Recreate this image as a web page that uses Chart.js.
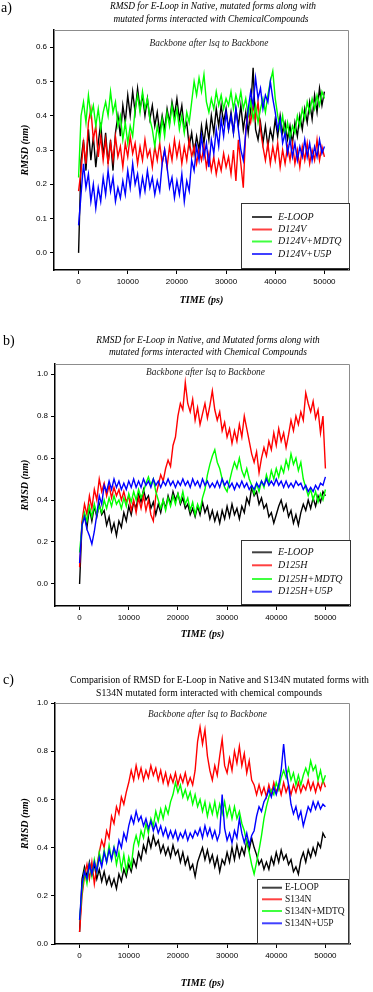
<!DOCTYPE html>
<html>
<head>
<meta charset="utf-8">
<script src="https://cdn.jsdelivr.net/npm/chart.js@4.4.1/dist/chart.umd.min.js"></script>
<style>
  body { margin: 0; background: #fff; width: 373px; height: 992px; position: relative; overflow: hidden; }
  .panel { position: absolute; left: 0; width: 373px; }
</style>
</head>
<body>
<div class="panel" style="top:0;height:315px"><canvas id="chartA"></canvas></div>
<div class="panel" style="top:318px;height:325px"><canvas id="chartB"></canvas></div>
<div class="panel" style="top:645px;height:347px"><canvas id="chartC"></canvas></div>
<script>
// RMSD (nm), one value every 500 ps from 0 to 50000 ps
const eLoopA = [0.00,0.27,0.33,0.24,0.36,0.27,0.34,0.25,0.32,0.38,
  0.28,0.35,0.26,0.33,0.24,0.35,0.40,0.34,0.43,0.38,
  0.46,0.40,0.47,0.41,0.48,0.42,0.46,0.40,0.45,0.39,
  0.43,0.37,0.41,0.35,0.40,0.36,0.42,0.38,0.44,0.40,
  0.45,0.39,0.43,0.36,0.38,0.31,0.35,0.29,0.34,0.30,
  0.37,0.32,0.38,0.33,0.40,0.35,0.42,0.37,0.43,0.38,
  0.42,0.36,0.41,0.35,0.42,0.37,0.43,0.36,0.41,0.35,
  0.42,0.54,0.36,0.33,0.38,0.32,0.37,0.31,0.36,0.33,
  0.39,0.34,0.40,0.35,0.38,0.33,0.37,0.32,0.38,0.34,
  0.40,0.36,0.42,0.38,0.44,0.39,0.46,0.41,0.48,0.43,
  0.47];
const d124vA = [0.18,0.24,0.32,0.26,0.38,0.42,0.33,0.37,0.28,0.34,
  0.27,0.33,0.26,0.32,0.27,0.34,0.28,0.31,0.25,0.32,
  0.28,0.34,0.29,0.32,0.26,0.31,0.27,0.33,0.28,0.30,
  0.25,0.31,0.27,0.32,0.26,0.30,0.25,0.31,0.27,0.33,
  0.28,0.32,0.26,0.31,0.27,0.33,0.28,0.31,0.26,0.30,
  0.27,0.31,0.25,0.29,0.24,0.28,0.23,0.27,0.24,0.29,
  0.25,0.28,0.23,0.30,0.21,0.33,0.26,0.19,0.36,0.41,
  0.38,0.43,0.39,0.44,0.36,0.31,0.27,0.32,0.26,0.31,
  0.27,0.32,0.25,0.30,0.26,0.31,0.27,0.32,0.26,0.30,
  0.25,0.31,0.27,0.32,0.26,0.30,0.27,0.33,0.27,0.31,
  0.28];
const mdtqA = [0.22,0.40,0.44,0.38,0.46,0.40,0.43,0.37,0.42,0.36,
  0.41,0.44,0.40,0.47,0.41,0.44,0.37,0.40,0.33,0.38,
  0.32,0.37,0.34,0.42,0.46,0.41,0.47,0.42,0.45,0.39,
  0.36,0.31,0.37,0.33,0.39,0.34,0.41,0.37,0.43,0.38,
  0.42,0.36,0.40,0.35,0.41,0.38,0.44,0.50,0.46,0.51,
  0.47,0.52,0.44,0.41,0.45,0.42,0.47,0.43,0.46,0.42,
  0.45,0.43,0.47,0.42,0.46,0.43,0.47,0.42,0.45,0.40,
  0.44,0.39,0.43,0.38,0.42,0.45,0.41,0.46,0.50,0.53,
  0.45,0.40,0.36,0.40,0.34,0.38,0.33,0.37,0.35,0.40,
  0.37,0.42,0.39,0.44,0.41,0.45,0.42,0.46,0.43,0.47,
  0.45];
const u5pA = [0.08,0.17,0.26,0.19,0.23,0.15,0.20,0.13,0.19,0.15,
  0.22,0.17,0.24,0.18,0.22,0.15,0.19,0.16,0.21,0.17,
  0.24,0.19,0.26,0.20,0.23,0.17,0.22,0.18,0.24,0.19,
  0.22,0.17,0.21,0.18,0.26,0.30,0.25,0.19,0.22,0.16,
  0.21,0.17,0.23,0.15,0.21,0.18,0.27,0.24,0.31,0.27,
  0.34,0.28,0.32,0.25,0.33,0.29,0.36,0.31,0.39,0.34,
  0.41,0.36,0.40,0.35,0.42,0.36,0.30,0.27,0.35,0.42,
  0.47,0.43,0.51,0.45,0.48,0.42,0.46,0.44,0.50,0.45,
  0.41,0.36,0.39,0.32,0.35,0.29,0.33,0.28,0.32,0.27,
  0.31,0.28,0.33,0.28,0.32,0.27,0.31,0.28,0.33,0.29,
  0.31];

const eLoopB = [0.00,0.29,0.33,0.27,0.36,0.30,0.37,0.32,0.38,0.33,
  0.35,0.28,0.32,0.25,0.29,0.23,0.30,0.27,0.34,0.30,
  0.37,0.33,0.39,0.36,0.43,0.39,0.45,0.40,0.42,0.36,
  0.39,0.33,0.38,0.34,0.40,0.36,0.42,0.38,0.44,0.40,
  0.43,0.38,0.41,0.36,0.38,0.33,0.36,0.32,0.37,0.33,
  0.39,0.34,0.37,0.31,0.35,0.30,0.34,0.29,0.35,0.31,
  0.37,0.32,0.38,0.33,0.36,0.31,0.37,0.34,0.41,0.38,
  0.46,0.42,0.44,0.38,0.41,0.36,0.38,0.32,0.34,0.29,
  0.33,0.37,0.40,0.35,0.38,0.32,0.35,0.29,0.33,0.28,
  0.34,0.38,0.35,0.40,0.36,0.41,0.37,0.42,0.39,0.44,
  0.42];
const d125hB = [0.08,0.30,0.38,0.33,0.42,0.36,0.45,0.40,0.50,0.44,
  0.48,0.42,0.47,0.41,0.46,0.42,0.45,0.40,0.44,0.39,
  0.42,0.35,0.40,0.34,0.41,0.36,0.42,0.35,0.40,0.33,
  0.30,0.42,0.47,0.52,0.49,0.55,0.59,0.56,0.66,0.70,
  0.80,0.86,0.83,0.96,0.86,0.82,0.88,0.78,0.84,0.76,
  0.81,0.86,0.79,0.85,0.92,0.83,0.78,0.82,0.73,0.77,
  0.70,0.74,0.67,0.73,0.68,0.76,0.70,0.80,0.74,0.68,
  0.62,0.58,0.63,0.53,0.60,0.65,0.61,0.68,0.64,0.72,
  0.66,0.74,0.68,0.72,0.65,0.71,0.78,0.73,0.80,0.76,
  0.82,0.78,0.91,0.86,0.82,0.87,0.79,0.83,0.72,0.80,
  0.55];
const mdtqB = [0.15,0.28,0.34,0.30,0.37,0.32,0.38,0.33,0.37,0.34,
  0.40,0.36,0.41,0.37,0.42,0.38,0.40,0.36,0.41,0.37,
  0.43,0.39,0.44,0.40,0.45,0.41,0.44,0.48,0.51,0.47,
  0.50,0.44,0.40,0.36,0.40,0.35,0.41,0.37,0.42,0.38,
  0.43,0.39,0.44,0.38,0.41,0.35,0.39,0.33,0.38,0.35,
  0.41,0.45,0.52,0.57,0.61,0.64,0.58,0.55,0.50,0.46,
  0.44,0.49,0.54,0.58,0.55,0.60,0.54,0.51,0.55,0.50,
  0.47,0.43,0.48,0.44,0.49,0.46,0.52,0.48,0.54,0.50,
  0.55,0.51,0.56,0.53,0.59,0.55,0.62,0.57,0.60,0.54,
  0.58,0.50,0.46,0.42,0.45,0.40,0.44,0.39,0.43,0.40,
  0.45];
const u5pB = [0.10,0.28,0.32,0.26,0.23,0.19,0.25,0.33,0.42,0.38,
  0.47,0.44,0.49,0.45,0.50,0.46,0.49,0.45,0.48,0.45,
  0.49,0.46,0.50,0.46,0.49,0.46,0.50,0.47,0.49,0.46,
  0.50,0.47,0.49,0.46,0.49,0.47,0.50,0.47,0.49,0.46,
  0.49,0.47,0.50,0.47,0.49,0.46,0.50,0.47,0.49,0.46,
  0.50,0.47,0.49,0.46,0.48,0.46,0.49,0.46,0.50,0.47,
  0.49,0.46,0.48,0.45,0.48,0.46,0.49,0.46,0.48,0.45,
  0.47,0.45,0.48,0.46,0.49,0.47,0.50,0.47,0.49,0.47,
  0.50,0.47,0.49,0.46,0.49,0.46,0.48,0.46,0.49,0.47,
  0.48,0.45,0.47,0.44,0.46,0.44,0.47,0.45,0.48,0.47,
  0.51];

const eLoopC = [0.05,0.27,0.32,0.28,0.34,0.29,0.33,0.27,0.31,0.26,
  0.30,0.25,0.28,0.24,0.27,0.23,0.29,0.26,0.31,0.28,
  0.33,0.30,0.35,0.32,0.38,0.35,0.41,0.38,0.44,0.40,
  0.45,0.41,0.43,0.38,0.41,0.37,0.40,0.36,0.41,0.37,
  0.39,0.34,0.38,0.33,0.36,0.31,0.33,0.28,0.34,0.37,
  0.40,0.35,0.39,0.34,0.37,0.32,0.36,0.30,0.35,0.33,
  0.38,0.34,0.40,0.35,0.41,0.36,0.40,0.37,0.43,0.39,
  0.44,0.40,0.37,0.33,0.35,0.31,0.34,0.31,0.36,0.33,
  0.38,0.34,0.39,0.35,0.37,0.33,0.35,0.30,0.32,0.29,
  0.35,0.38,0.34,0.39,0.36,0.40,0.37,0.42,0.40,0.46,
  0.44];
const s134nC = [0.05,0.20,0.28,0.33,0.27,0.34,0.25,0.32,0.38,0.43,
  0.40,0.47,0.44,0.53,0.50,0.57,0.54,0.61,0.58,0.63,
  0.67,0.72,0.68,0.74,0.69,0.73,0.68,0.72,0.69,0.74,
  0.70,0.73,0.68,0.72,0.67,0.71,0.66,0.70,0.67,0.71,
  0.66,0.70,0.67,0.71,0.66,0.69,0.66,0.72,0.84,0.90,
  0.83,0.89,0.78,0.72,0.68,0.74,0.70,0.78,0.85,0.74,
  0.71,0.77,0.72,0.80,0.75,0.82,0.74,0.79,0.71,0.76,
  0.68,0.66,0.62,0.66,0.62,0.65,0.61,0.66,0.62,0.67,
  0.63,0.66,0.62,0.67,0.63,0.66,0.62,0.66,0.63,0.67,
  0.63,0.66,0.64,0.68,0.64,0.67,0.63,0.67,0.64,0.68,
  0.65];
const mdtqC = [0.10,0.22,0.30,0.25,0.33,0.28,0.35,0.30,0.38,0.33,
  0.39,0.34,0.41,0.35,0.40,0.33,0.38,0.31,0.37,0.30,
  0.36,0.32,0.41,0.45,0.41,0.47,0.44,0.50,0.46,0.52,
  0.49,0.55,0.51,0.56,0.52,0.57,0.54,0.59,0.62,0.67,
  0.63,0.66,0.61,0.64,0.60,0.63,0.58,0.62,0.57,0.60,
  0.55,0.59,0.53,0.58,0.54,0.59,0.53,0.58,0.54,0.59,
  0.53,0.57,0.52,0.57,0.52,0.55,0.50,0.47,0.42,0.38,
  0.33,0.29,0.34,0.39,0.45,0.52,0.57,0.61,0.64,0.62,
  0.67,0.64,0.69,0.72,0.69,0.73,0.68,0.71,0.66,0.70,
  0.66,0.70,0.73,0.70,0.76,0.72,0.74,0.68,0.72,0.67,
  0.70];
const u5pC = [0.10,0.25,0.30,0.27,0.33,0.29,0.34,0.30,0.36,0.32,
  0.38,0.34,0.39,0.35,0.40,0.37,0.43,0.40,0.46,0.43,
  0.49,0.53,0.50,0.55,0.51,0.53,0.49,0.52,0.48,0.51,
  0.47,0.50,0.46,0.49,0.45,0.48,0.44,0.47,0.44,0.47,
  0.43,0.46,0.44,0.47,0.43,0.46,0.44,0.47,0.45,0.48,
  0.44,0.49,0.45,0.48,0.44,0.47,0.43,0.46,0.62,0.48,
  0.43,0.46,0.42,0.47,0.44,0.52,0.46,0.42,0.46,0.41,
  0.45,0.47,0.53,0.57,0.55,0.59,0.61,0.64,0.61,0.65,
  0.62,0.66,0.72,0.83,0.72,0.66,0.58,0.54,0.57,0.52,
  0.55,0.49,0.53,0.57,0.55,0.59,0.56,0.59,0.56,0.58,
  0.57];

const times = eLoopA.map((_, i) => i * 500);   // ps
const timeTicks = [0, 10000, 20000, 30000, 40000, 50000];
const rmsdTicksA = [0.0, 0.1, 0.2, 0.3, 0.4, 0.5, 0.6];
const rmsdTicksBC = [0.0, 0.2, 0.4, 0.6, 0.8, 1.0];

const labelsA = ['E-LOOP', 'D124V', 'D124V+MDTQ', 'D124V+U5P'];
const labelsB = ['E-LOOP', 'D125H', 'D125H+MDTQ', 'D125H+U5P'];
const labelsC = ['E-LOOP', 'S134N', 'S134N+MDTQ', 'S134N+U5P'];
const lineColors = ['#000000', '#ff0000', '#00ff00', '#0000ff'];

const SERIF = '"Liberation Serif", "Times New Roman", serif';

// draw a text line shrunk/grown to the width it has in the figure
function fitText(ctx, text, x, y, width, style) {
  ctx.font = style + ' 10px ' + SERIF;
  const size = 10 * width / ctx.measureText(text).width;
  ctx.font = style + ' ' + size.toFixed(2) + 'px ' + SERIF;
  ctx.fillText(text, x, y);
}

// titles, sub-title, frame and in-plot legend
const decor = {
  id: 'decor',
  afterDraw(chart, args, o) {
    const {ctx, chartArea: a} = chart;
    ctx.save();
    ctx.strokeStyle = '#8c8c8c';
    ctx.lineWidth = 1;
    ctx.beginPath();
    ctx.moveTo(a.left, a.top + 0.5);
    ctx.lineTo(a.right - 0.5, a.top + 0.5);
    ctx.lineTo(a.right - 0.5, a.bottom);
    ctx.stroke();

    ctx.fillStyle = '#000';
    ctx.textBaseline = 'middle';
    ctx.textAlign = 'left';
    ctx.font = '14px ' + SERIF;
    ctx.fillText(o.tag, o.tagX, o.tagY);

    ctx.textAlign = 'center';
    o.title.forEach((t, i) => fitText(ctx, t, o.titleX[i], o.titleY[i], o.titleW[i], o.titleStyle));

    ctx.fillStyle = '#222';
    fitText(ctx, 'Backbone after lsq to Backbone', o.subX, o.subY, 119, 'italic');

    const L = o.legend;
    ctx.fillStyle = '#fff';
    ctx.fillRect(L.x, L.y, L.w, L.h);
    ctx.strokeStyle = '#333';
    ctx.strokeRect(L.x + 0.5, L.y + 0.5, L.w, L.h);
    ctx.textAlign = 'left';
    ctx.font = L.font;
    chart.data.datasets.forEach((d, i) => {
      const y = L.rows[i];
      ctx.strokeStyle = d.borderColor;
      ctx.globalAlpha = 0.75;
      ctx.lineWidth = 2;
      ctx.beginPath();
      ctx.moveTo(L.lineX[0], y);
      ctx.lineTo(L.lineX[1], y);
      ctx.stroke();
      ctx.globalAlpha = 1;
      ctx.fillStyle = '#111';
      ctx.fillText(d.label, L.textX, y);
    });
    ctx.restore();
  }
};

function makeChart(id, p) {
  const datasets = p.series.map((vals, i) => ({
    label: p.labels[i],
    data: vals.map((v, k) => ({x: times[k], y: v})),
    borderColor: lineColors[i],
    borderWidth: 1.4,
    pointRadius: 0,
    tension: 0,
    order: 3 - i
  }));
  const H = p.height;
  const tickFont = {family: '"Liberation Sans", Arial, sans-serif', size: 8};
  const axTitleFont = {family: SERIF, size: 10, style: 'italic', weight: 'bold'};
  return new Chart(document.getElementById(id), {
    type: 'line',
    data: {datasets},
    options: {
      responsive: true,
      maintainAspectRatio: false,
      animation: false,
      devicePixelRatio: 1,
      layout: {padding: {top: p.area.top, right: 373 - p.area.right, bottom: 0, left: 0}},
      plugins: {
        legend: {display: false},
        title: {display: false},
        tooltip: {enabled: false},
        decor: p.decor
      },
      scales: {
        x: {
          type: 'linear',
          min: -5000,
          max: 55000,
          afterBuildTicks: s => { s.ticks = timeTicks.map(v => ({value: v})); },
          afterFit: s => { s.height = H - p.area.bottom; },
          border: {color: '#000', width: 1.5},
          grid: {drawOnChartArea: false, tickLength: 4, color: '#000'},
          ticks: {font: tickFont, color: '#000', padding: 3, maxRotation: 0, autoSkip: false,
                  callback: v => String(v)},
          title: {display: true, text: 'TIME (ps)', font: axTitleFont, color: '#000',
                  padding: {top: 0, bottom: H - p.xTitleY - 6}}
        },
        y: {
          min: p.yMin,
          max: p.yMax,
          afterBuildTicks: s => { s.ticks = p.yTicks.map(v => ({value: v})); },
          afterFit: s => { s.width = p.area.left; },
          border: {color: '#000', width: 1.5},
          grid: {drawOnChartArea: false, tickLength: 4, color: '#000'},
          ticks: {font: tickFont, color: '#000', padding: 3, autoSkip: false,
                  callback: v => v.toFixed(1)},
          title: {display: true, text: 'RMSD (nm)', font: axTitleFont, color: '#000',
                  padding: {top: 19, bottom: 0}}
        }
      }
    },
    plugins: [decor]
  });
}

makeChart('chartA', {
  series: [eLoopA, d124vA, mdtqA, u5pA], labels: labelsA,
  height: 315, area: {left: 54, right: 349, top: 30, bottom: 270}, xTitleY: 300,
  yMin: -0.05, yMax: 0.65, yTicks: rmsdTicksA,
  decor: {
    tag: 'a)', tagX: 1, tagY: 8,
    title: ['RMSD for E-Loop in Native, mutated forms along with',
            'mutated forms interacted with ChemicalCompounds'],
    titleX: [213, 211], titleY: [7, 19.5], titleW: [206, 195], titleStyle: 'italic',
    subX: 209, subY: 44,
    legend: {x: 241, y: 203, w: 108, h: 65, rows: [217, 229.5, 241.5, 254],
             lineX: [252, 272], textX: 278, font: 'italic 10px ' + SERIF}
  }
});

makeChart('chartB', {
  series: [eLoopB, d125hB, mdtqB, u5pB], labels: labelsB,
  height: 325, area: {left: 55, right: 350, top: 46, bottom: 288}, xTitleY: 316,
  yMin: -0.105, yMax: 1.048, yTicks: rmsdTicksBC,
  decor: {
    tag: 'b)', tagX: 3, tagY: 23,
    title: ['RMSD for E-Loop in Native, and Mutated forms along with',
            'mutated forms interacted with Chemical Compounds'],
    titleX: [208, 208], titleY: [23, 35], titleW: [224, 198], titleStyle: 'italic',
    subX: 205.5, subY: 55,
    legend: {x: 241, y: 222, w: 109, h: 64, rows: [234.3, 247.3, 261, 273.7],
             lineX: [252, 272], textX: 278, font: 'italic 10px ' + SERIF}
  }
});

makeChart('chartC', {
  series: [eLoopC, s134nC, mdtqC, u5pC], labels: labelsC,
  height: 347, area: {left: 55, right: 350, top: 58, bottom: 299}, xTitleY: 338,
  yMin: 0, yMax: 1.0, yTicks: rmsdTicksBC,
  decor: {
    tag: 'c)', tagX: 3, tagY: 35,
    title: ['Comparision of RMSD for E-Loop in Native and S134N mutated forms with',
            'S134N mutated form interacted with chemical compounds'],
    titleX: [219.5, 209], titleY: [35, 48], titleW: [299, 226], titleStyle: 'normal',
    subX: 207.5, subY: 70,
    legend: {x: 257, y: 234, w: 91, h: 64, rows: [242.7, 254.3, 266, 278.3],
             lineX: [262, 282], textX: 285, font: '9.5px ' + SERIF}
  }
});
</script>
</body>
</html>
